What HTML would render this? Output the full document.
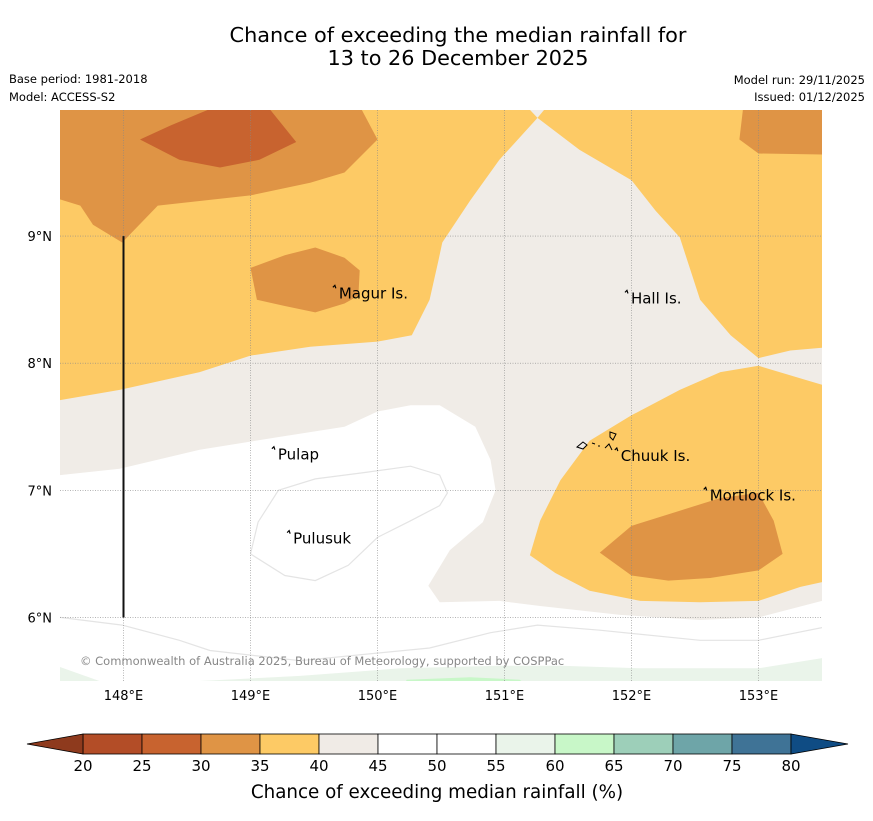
<!DOCTYPE html>
<html><head><meta charset="utf-8"><style>
body{margin:0;background:#fff;font-family:"Liberation Sans","DejaVu Sans",sans-serif}
svg text{font-family:"DejaVu Sans","Liberation Sans",sans-serif}
</style></head><body>
<svg id="c" width="873" height="816" xmlns="http://www.w3.org/2000/svg">
<text x="458" y="42" font-size="20.8" text-anchor="middle">Chance of exceeding the median rainfall for</text>
<text x="458" y="65" font-size="20.8" text-anchor="middle">13 to 26 December 2025</text>
<text x="9" y="83" font-size="11.5">Base period: 1981-2018</text>
<text x="9" y="101" font-size="11.5">Model: ACCESS-S2</text>
<text x="865" y="84" font-size="11.5" text-anchor="end">Model run: 29/11/2025</text>
<text x="865" y="101" font-size="11.5" text-anchor="end">Issued: 01/12/2025</text>
<defs><clipPath id="mc"><rect x="60" y="110" width="762" height="571"/></clipPath></defs>
<g id="map" clip-path="url(#mc)"></g>
<g id="ax"></g>
<g id="cb"></g>
<text x="437" y="798" font-size="18.3" text-anchor="middle">Chance of exceeding median rainfall (%)</text>
</svg>
<script>
const lonTicks=[148,149,150,151,152,153];
const latTicks=[9,8,7,6];
const cbValues=[20,25,30,35,40,45,50,55,60,65,70,75,80];
const cbColors=["#b34d27","#c8632f","#df9445","#fdca65","#f0ebe6","#ffffff","#ffffff","#eaf4ea","#c8f7c8","#9dcfb9","#6ea5a8","#3f7396"];
const beige="#f0ece7",white="#ffffff",orange="#fdca65",dorange="#df9445",red="#c8632f",lgreen="#eaf4ea",green="#c8f7c8";
const whiteHole=[[147.5,7.12],[147.97,7.17],[148.6,7.32],[149.23,7.42],[149.74,7.5],[150,7.62],[150.26,7.67],[150.49,7.67],[150.77,7.5],[150.89,7.24],[150.93,7],[150.83,6.75],[150.57,6.53],[150.4,6.25],[150.49,6.12],[150.96,6.13],[151.28,6.09],[151.91,6.02],[152.54,5.98],[153,6.0],[153.5,6.13],[153.5,5.4],[147.5,5.4]];
const orangeLeft=[[147.4,10.1],[151.1,10.1],[151.26,9.93],[150.96,9.6],[150.73,9.28],[150.51,8.95],[150.48,8.81],[150.41,8.5],[150.27,8.22],[150,8.17],[149.47,8.13],[149.0,8.06],[148.6,7.93],[147.97,7.79],[147.5,7.71]];
const orangeRight=[[151.4,10.1],[151.26,9.93],[151.59,9.68],[152,9.44],[152.19,9.2],[152.38,8.99],[152.54,8.5],[152.78,8.22],[153,8.04],[153.25,8.10],[153.6,8.13],[153.6,10.1]];
const dorangeTop=[[147.4,9.32],[147.66,9.24],[147.76,9.09],[147.99,8.95],[148.27,9.24],[149,9.32],[149.47,9.42],[149.74,9.5],[150,9.76],[149.82,10.1],[147.4,10.1]];
const redTop=[[148.13,9.76],[148.37,9.87],[148.68,10.0],[149.15,10.0],[149.36,9.74],[149.07,9.6],[148.76,9.54],[148.44,9.6]];
const dorangeMagur=[[149,8.75],[149.27,8.85],[149.51,8.91],[149.74,8.83],[149.86,8.73],[149.85,8.53],[149.74,8.47],[149.51,8.4],[149.27,8.45],[149.05,8.5]];
const dorangeTR=[[152.89,10.1],[153.6,10.1],[153.6,9.64],[153,9.65],[152.85,9.76]];
const orangeSE=[[151.2,6.49],[151.28,6.76],[151.44,7.08],[151.67,7.39],[152,7.59],[152.38,7.79],[152.7,7.93],[153,7.98],[153.6,7.8],[153.6,6.3],[153.33,6.24],[153,6.13],[152.54,6.12],[152.07,6.13],[151.67,6.21],[151.4,6.35]];
const dorangeSE=[[151.75,6.51],[152,6.72],[152.38,6.84],[152.7,6.94],[153,6.98],[153.12,6.76],[153.19,6.5],[153,6.37],[152.62,6.31],[152.29,6.29],[152,6.33]];
const lgreenS=[[148.6,5.4],[148.6,5.5],[149.39,5.54],[150.18,5.6],[150.96,5.62],[151.44,5.62],[152.07,5.6],[153,5.6],[153.5,5.68],[153.6,5.4]];
const lgreenW=[[147.4,5.62],[147.5,5.61],[147.81,5.5],[147.81,5.4],[147.4,5.4]];
const greenS=[[150.2,5.45],[150.23,5.51],[150.73,5.53],[151.12,5.51],[151.2,5.45]];
const line55=[[147.5,6.0],[147.99,5.94],[148.44,5.82],[148.68,5.74],[149.39,5.66],[150.41,5.76],[150.89,5.88],[151.26,5.94],[151.75,5.9],[152.54,5.82],[153,5.82],[153.5,5.92]];
const line50=[[149,6.5],[149.06,6.75],[149.22,7.0],[149.51,7.09],[149.9,7.14],[150.26,7.19],[150.49,7.12],[150.55,6.98],[150.49,6.88],[150.26,6.76],[150,6.63],[149.77,6.41],[149.51,6.29],[149.27,6.33],[149,6.5]];
const places=["Magur Is.","Hall Is.","Pulap","Chuuk Is.","Mortlock Is.","Pulusuk"];
const placeLon=[149.68,151.98,149.2,151.9,152.6,149.32];
const placeLat=[8.55,8.51,7.28,7.27,6.96,6.62];
const X0=60,X1=822,Y0=110,Y1=681,LON0=147.5,LON1=153.5,LAT0=5.5,LAT1=9.992;
const sx=l=>X0+(l-LON0)/(LON1-LON0)*(X1-X0);
const sy=l=>Y1-(l-LAT0)/(LAT1-LAT0)*(Y1-Y0);
const NS="http://www.w3.org/2000/svg";
const map=document.getElementById('map'),ax=document.getElementById('ax'),cb=document.getElementById('cb');
function mk(t,a,p){const e=document.createElementNS(NS,t);for(const k in a)e.setAttribute(k,a[k]);p.appendChild(e);return e;}
const pts=a=>a.map(p=>sx(p[0]).toFixed(1)+','+sy(p[1]).toFixed(1)).join(' ');
let r=mk('rect',{x:X0,y:Y0,width:X1-X0,height:Y1-Y0,fill:beige},map);


const layers=[[whiteHole,white,'region-45-55'],[lgreenS,lgreen,'region-55-60-south'],[lgreenW,lgreen,'region-55-60-west'],[greenS,green,'region-60-65'],[orangeLeft,orange,'region-35-40-west'],[orangeRight,orange,'region-35-40-northeast'],[dorangeTop,dorange,'region-30-35-north'],[redTop,red,'region-25-30-north'],[dorangeMagur,dorange,'region-30-35-magur'],[dorangeTR,dorange,'region-30-35-northeast'],[orangeSE,orange,'region-35-40-southeast'],[dorangeSE,dorange,'region-30-35-southeast']];
layers.forEach(L=>{const e=mk('polygon',{points:pts(L[0]),fill:L[1]},map);

});
[[line55,'contour-55'],[line50,'contour-50']].forEach(L=>{const e=mk('polyline',{points:pts(L[0]),fill:'none',stroke:'#e4e4e4','stroke-width':1.2},map);

});
const ctext=mk('text',{x:80,y:665,'font-size':11.5,fill:'#888'},map);ctext.textContent="© Commonwealth of Australia 2025, Bureau of Meteorology, supported by COSPPac";


lonTicks.forEach(l=>{const g=mk('line',{x1:sx(l),x2:sx(l),y1:Y0,y2:Y1,stroke:'#888','stroke-width':0.6,'stroke-dasharray':'1,1.5'},map);


const t=mk('text',{x:sx(l),y:700,'font-size':13,'text-anchor':'middle'},ax);t.textContent=l+'°E';

});
latTicks.forEach(l=>{const g=mk('line',{x1:X0,x2:X1,y1:sy(l),y2:sy(l),stroke:'#888','stroke-width':0.6,'stroke-dasharray':'1,1.5'},map);


const t=mk('text',{x:52,y:sy(l)+5,'font-size':13,'text-anchor':'end'},ax);t.textContent=l+'°N';

});
const vl=mk('line',{x1:sx(148),x2:sx(148),y1:sy(9),y2:sy(6),stroke:'#111','stroke-width':2},map);


places.forEach((p,i)=>{const x=sx(placeLon[i]),y=sy(placeLat[i]);
const m=mk('path',{d:`M${x-4},${y-6} l2,-2 l1,3`,stroke:'#000',fill:'none','stroke-width':1.2},map);


const t=mk('text',{x:x+2,y:y+5,'font-size':15},map);t.textContent=p;

});
const ch=mk('path',{d:'M577,447 l6,-5 l4,3 l-4,4 z M592,443 l3,1 M598,446 l2,0 M610,432 l6,2 l-3,6 l-3,-3z M605,448 l4,-4 l3,6',stroke:'#000',fill:'none','stroke-width':1},map);


const CX0=83,CW=59,CY=734,CH=20;
cbColors.forEach((c,i)=>{const e=mk('rect',{x:CX0+i*CW,y:CY,width:CW,height:CH,fill:c,stroke:'#000','stroke-width':0.8},cb);

});
const tl=mk('polygon',{points:`${CX0},${CY} 27,${CY+CH/2} ${CX0},${CY+CH}`,fill:'#8e3a1d',stroke:'#000','stroke-width':0.8},cb);


const xe=CX0+cbColors.length*CW;
const tr=mk('polygon',{points:`${xe},${CY} 848,${CY+CH/2} ${xe},${CY+CH}`,fill:'#0f4c84',stroke:'#000','stroke-width':0.8},cb);


cbValues.forEach((v,i)=>{const t=mk('text',{x:CX0+i*CW,y:771,'font-size':15,'text-anchor':'middle'},cb);t.textContent=v;

});
</script>
</body></html>
